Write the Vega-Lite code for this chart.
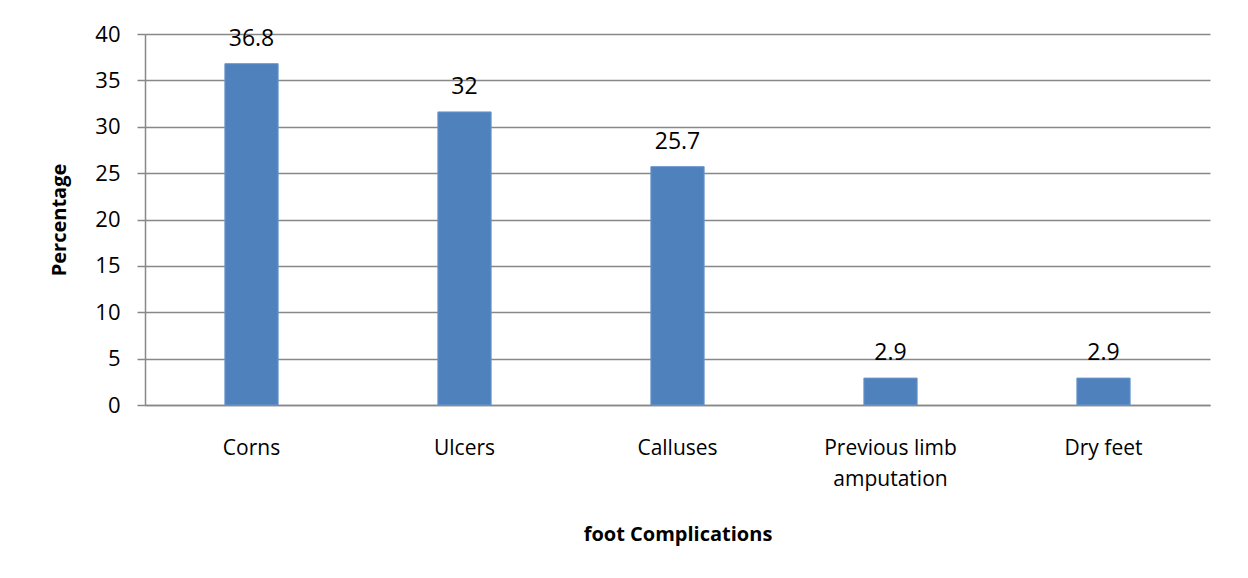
{
  "$schema": "https://vega.github.io/schema/vega-lite/v6.json",
  "autosize": "none",
  "width": 1065,
  "height": 371,
  "padding": {"left": 145, "top": 34, "right": 38, "bottom": 173},
  "background": "white",
  "config": {
    "view": {"stroke": null},
    "font": "Open Sans"
  },
  "data": {
    "values": [
      {"complication": "Corns", "percentage": 36.8, "label": "36.8"},
      {"complication": "Ulcers", "percentage": 31.6, "label": "32"},
      {"complication": "Calluses", "percentage": 25.7, "label": "25.7"},
      {"complication": "Previous limb amputation", "percentage": 2.9, "label": "2.9"},
      {"complication": "Dry feet", "percentage": 2.9, "label": "2.9"}
    ]
  },
  "encoding": {
    "x": {
      "field": "complication",
      "type": "nominal",
      "sort": null,
      "scale": {"paddingInner": 0.75, "paddingOuter": 0.375},
      "axis": {
        "title": "foot Complications",
        "titleFont": "Open Sans",
        "titleFontSize": 20,
        "titleFontWeight": "bold",
        "titleColor": "black",
        "titlePadding": 35,
        "labelAngle": 0,
        "labelFont": "Open Sans",
        "labelFontSize": 21,
        "labelColor": "black",
        "labelPadding": 32,
        "labelLineHeight": 31,
        "labelExpr": "datum.value == 'Previous limb amputation' ? ['Previous limb', 'amputation'] : datum.value",
        "ticks": false,
        "domainColor": "#888888",
        "domainWidth": 1.5
      }
    }
  },
  "layer": [
    {
      "mark": {"type": "bar", "color": "#4F81BD", "stroke": "#6C96CC", "strokeWidth": 1},
      "encoding": {
        "y": {
          "field": "percentage",
          "type": "quantitative",
          "scale": {"domain": [0, 40], "nice": false},
          "axis": {
            "title": "Percentage",
            "titleFont": "Open Sans",
            "titleFontSize": 20,
            "titleFontWeight": "bold",
            "titleColor": "black",
            "titlePadding": 25,
            "values": [0, 5, 10, 15, 20, 25, 30, 35, 40],
            "labelFont": "Open Sans",
            "labelFontSize": 22,
            "labelColor": "black",
            "labelPadding": 17,
            "tickSize": 8,
            "tickColor": "#888888",
            "tickWidth": 1.5,
            "domainColor": "#888888",
            "domainWidth": 1.5,
            "grid": true,
            "gridColor": "#888888",
            "gridWidth": 1.5
          }
        }
      }
    },
    {
      "mark": {"type": "text", "baseline": "alphabetic", "dy": -18, "fontSize": 23, "font": "Open Sans", "color": "black"},
      "encoding": {
        "y": {"field": "percentage", "type": "quantitative"},
        "text": {"field": "label"}
      }
    }
  ]
}
